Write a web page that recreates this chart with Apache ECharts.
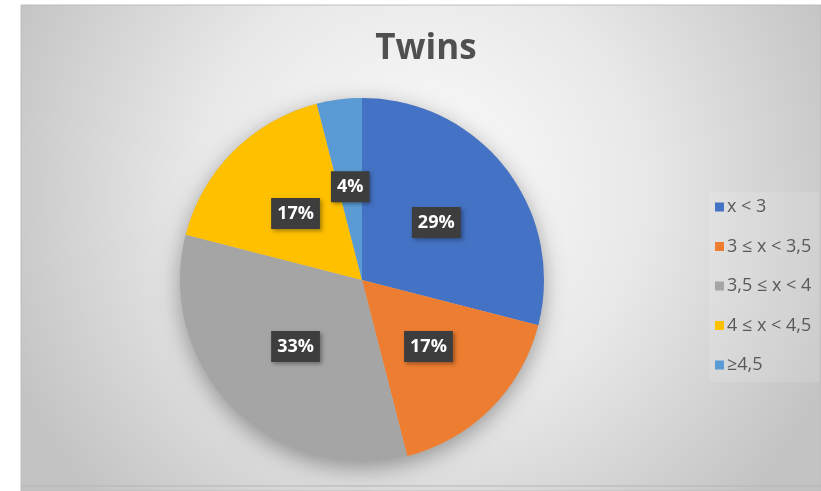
<!DOCTYPE html>
<html>
<head>
<meta charset="utf-8">
<script src="https://cdn.jsdelivr.net/npm/echarts@6/dist/echarts.min.js"></script>
<style>
  html, body { margin: 0; padding: 0; background: #ffffff; }
  #chart { width: 821px; height: 491px; }
</style>
</head>
<body>
<div id="chart"></div>
<script>
// Share of twins by size class
const categories = ['x < 3', '3 ≤ x < 3,5', '3,5 ≤ x < 4', '4 ≤ x < 4,5', '≥4,5'];
const shares = [29, 17, 33, 17, 4];
const colors = ['#4472C4', '#ED7D31', '#A5A5A5', '#FFC000', '#5B9BD5'];
const titleText = 'Twins';

const chart = echarts.init(document.getElementById('chart'), null, { renderer: 'canvas' });

const pieData = categories.map((name, i) => ({
  name: name,
  value: shares[i],
  itemStyle: { color: colors[i] }
}));

chart.setOption({
  animation: false,
  graphic: [
    {
      type: 'rect',
      z: -10,
      silent: true,
      shape: { x: 21, y: 5, width: 800, height: 486 },
      style: {
        fill: {
          type: 'radial', global: true, x: 421, y: 190, r: 450,
          colorStops: [
            { offset: 0, color: '#fdfdfd' },
            { offset: 0.5, color: '#e8e8e8' },
            { offset: 1, color: '#c3c3c3' }
          ]
        },
        stroke: '#bdbdbd',
        lineWidth: 1
      }
    },
    {
      type: 'line',
      z: -9,
      silent: true,
      shape: { x1: 21, y1: 486, x2: 821, y2: 486 },
      style: { stroke: '#b5b5b5', lineWidth: 1 }
    }
  ],
  title: {
    text: titleText,
    left: 421,
    textAlign: 'center',
    top: 27,
    textStyle: {
      fontFamily: '"Open Sans", sans-serif',
      fontWeight: 'bold',
      fontSize: 35,
      color: '#505050'
    }
  },
  legend: {
    orient: 'vertical',
    left: 709,
    top: 192,
    data: categories,
    itemWidth: 9,
    itemHeight: 9,
    itemGap: 21.5,
    icon: 'rect',
    padding: [6, 8, 8, 6],
    backgroundColor: 'rgba(255,255,255,0.12)',
    textStyle: {
      fontFamily: '"Open Sans", sans-serif',
      fontSize: 18,
      color: '#595959',
      padding: [0, 0, 0, -2]
    }
  },
  series: [
    {
      // soft drop shadow under the whole pie
      type: 'pie',
      silent: true,
      z: 1,
      center: [362, 280],
      radius: 182,
      label: { show: false },
      labelLine: { show: false },
      data: [{ value: 1, name: '', itemStyle: { color: '#bbbbbb', shadowBlur: 22, shadowOffsetY: 6, shadowColor: 'rgba(0,0,0,0.35)' } }]
    },
    {
      type: 'pie',
      z: 2,
      center: [362, 280],
      radius: 182,
      startAngle: 90,
      clockwise: true,
      data: pieData,
      itemStyle: { borderWidth: 0 },
      label: {
        show: true,
        position: 'inside',
        formatter: '{c}%',
        color: '#ffffff',
        fontFamily: '"Open Sans", sans-serif',
        fontWeight: 'bold',
        fontSize: 18,
        backgroundColor: '#3d3d3d',
        padding: [7, 6, 6, 6],
        shadowBlur: 4,
        shadowOffsetX: 2,
        shadowOffsetY: 2,
        shadowColor: 'rgba(0,0,0,0.35)'
      },
      labelLine: { show: false },
      emphasis: { disabled: true }
    }
  ]
});
</script>
</body>
</html>
